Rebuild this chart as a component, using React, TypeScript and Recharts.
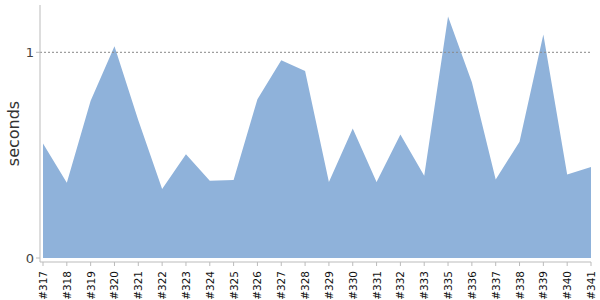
import { AreaChart, Area, XAxis, YAxis, ReferenceLine } from "recharts";

const builds = [
  '#317', '#318', '#319', '#320', '#321', '#322', '#323', '#324', '#325', '#326', '#327', '#328',
  '#329', '#330', '#331', '#332', '#333', '#335', '#336', '#337', '#338', '#339', '#340', '#341',
];

const seconds = [
  0.557, 0.366, 0.764, 1.029, 0.67, 0.336, 0.505, 0.375, 0.379, 0.772, 0.961, 0.909,
  0.37, 0.629, 0.37, 0.6, 0.4, 1.174, 0.854, 0.382, 0.565, 1.086, 0.406, 0.443,
];

const yTicks = [0, 1];

const data = builds.map((name, i) => ({ name, value: seconds[i] }));

const FONT = "'DejaVu Sans', sans-serif";

function XTick({ x, y, payload }: any) {
  const ty = y + 3;
  return (
    <text
      x={x}
      y={ty}
      transform={`rotate(-90, ${x}, ${ty})`}
      textAnchor="end"
      dominantBaseline="central"
      fontSize={10.5}
      fontFamily={FONT}
      fill="#111"
    >
      {payload.value}
    </text>
  );
}

export default function App() {
  return (
    <div style={{ position: 'fixed', left: 0, top: 0, background: '#fff' }}>
      <AreaChart width={600} height={300} data={data} margin={{ top: 5, right: 9, bottom: 0, left: 0 }}>
        <XAxis
          dataKey="name"
          interval={0}
          height={38}
          padding={{ left: 3, right: 0 }}
          tick={<XTick />}
          tickSize={4}
          tickLine={{ stroke: '#bbb' }}
          axisLine={{ stroke: '#bbb' }}
        />
        <YAxis
          width={40}
          domain={[0, 1.23]}
          ticks={yTicks}
          padding={{ top: 0, bottom: 4 }}
          tickSize={4}
          tickLine={{ stroke: '#bbb' }}
          axisLine={{ stroke: '#bbb' }}
          tick={{ fill: '#444', fontSize: 13, fontFamily: FONT }}
          label={{ value: 'seconds', angle: -90, position: 'insideLeft', offset: 13, style: { fill: '#333', fontSize: 16, fontFamily: FONT, textAnchor: 'middle' } }}
        />
        <ReferenceLine y={1} stroke="#888" strokeDasharray="2 2" />
        <Area
          type="linear"
          dataKey="value"
          stroke="none"
          fill="#8fb2da"
          fillOpacity={1}
          isAnimationActive={false}
          dot={false}
          activeDot={false}
        />
      </AreaChart>
    </div>
  );
}
